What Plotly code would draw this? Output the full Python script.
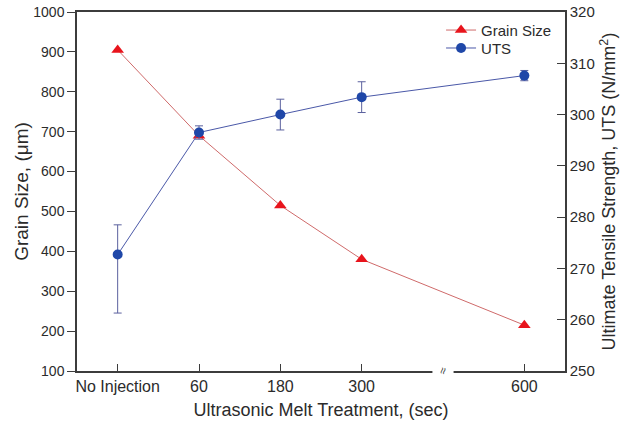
import plotly.graph_objects as go

categories = ["No Injection", "60", "180", "300", "600"]
grain_size = [905, 690, 515, 380, 215]
uts = [272.7, 296.5, 300.0, 303.4, 307.6]
uts_err_plus = [5.8, 1.3, 3.0, 3.0, 1.0]
uts_err_minus = [11.4, 1.3, 3.0, 3.0, 1.0]
left_ticks = [100, 200, 300, 400, 500, 600, 700, 800, 900, 1000]
right_ticks = [250, 260, 270, 280, 290, 300, 310, 320]

# axis break between "300" and "600": one empty slot
BREAK_AFTER = 3
xpos = [i if i <= BREAK_AFTER else i + 1 for i in range(len(categories))]
break_pos = BREAK_AFTER + 1

FONT = "Liberation Sans, Arial, sans-serif"
AXC = "#3c3c3c"
TXT = "#2b2b2b"

fig = go.Figure()
fig.add_trace(go.Scatter(
    x=xpos, y=grain_size, name="Grain Size", mode="lines+markers",
    line=dict(color="#cf6a6a", width=1),
    marker=dict(symbol="triangle-up", size=11, color="#e8141c"),
    yaxis="y", legend="legend",
))
fig.add_trace(go.Scatter(
    x=xpos, y=uts, name="UTS", mode="lines+markers",
    line=dict(color="#4a58a8", width=1),
    marker=dict(symbol="circle", size=10, color="#1f47a8"),
    error_y=dict(type="data", symmetric=False, array=uts_err_plus,
                 arrayminus=uts_err_minus, color="#5b619e", thickness=1, width=4),
    yaxis="y2", legend="legend2",
))

leg_common = dict(xanchor="left", yanchor="top", font=dict(size=15, color=TXT),
                  bgcolor="rgba(0,0,0,0)", itemwidth=30, borderwidth=0)

fig.update_layout(
    width=628, height=421,
    margin=dict(l=77, r=63, t=12, b=50),
    paper_bgcolor="white", plot_bgcolor="white",
    font=dict(family=FONT, color=TXT),
    showlegend=True,
    legend=dict(x=0.746, y=0.995, **leg_common),
    legend2=dict(x=0.746, y=0.945, **leg_common),
    xaxis=dict(
        range=[-0.5, 5.5], tickvals=xpos, ticktext=categories,
        showline=True, linecolor=AXC, linewidth=1.5, mirror=True,
        ticks="inside", ticklen=7, tickwidth=1.2, tickcolor=AXC,
        showgrid=False, zeroline=False, automargin=False,
        tickfont=dict(size=16, color=TXT),
        title=dict(text="Ultrasonic Melt Treatment, (sec)", font=dict(size=18, color=TXT), standoff=9),
    ),
    yaxis=dict(
        range=[100, 1000], tickvals=left_ticks,
        showline=True, linecolor=AXC, linewidth=1.5,
        ticks="outside", ticklen=8, tickwidth=1.2, tickcolor=AXC,
        showgrid=False, zeroline=False, automargin=False,
        tickfont=dict(size=14, color=TXT),
        title=dict(text="Grain Size, (\u03bcm)", font=dict(size=19, color=TXT), standoff=0),
    ),
    yaxis2=dict(
        range=[250, 320], tickvals=right_ticks, overlaying="y", side="right",
        showline=True, linecolor=AXC, linewidth=1.5,
        ticks="inside", ticklen=8, tickwidth=1.2, tickcolor=AXC,
        showgrid=False, zeroline=False, automargin=False,
        tickfont=dict(size=15, color=TXT),
        title=dict(text="Ultimate Tensile Strength, UTS (N/mm<sup>2</sup>)",
                   font=dict(size=18, color=TXT), standoff=9),
    ),
)

# axis break marker on the bottom axis
fig.add_shape(type="rect", xref="x", yref="paper",
              x0=break_pos - 0.13, x1=break_pos + 0.13, y0=-0.012, y1=0.012,
              fillcolor="white", line=dict(width=0), layer="above")
fig.add_annotation(x=break_pos, y=0, xref="x", yref="paper", text="\u2248",
                   showarrow=False, textangle=-75, font=dict(size=12, color=AXC),
                   xanchor="center", yanchor="middle")

fig.write_html("out.html", config={"displayModeBar": False},
               post_script="document.body.style.margin='0';")
